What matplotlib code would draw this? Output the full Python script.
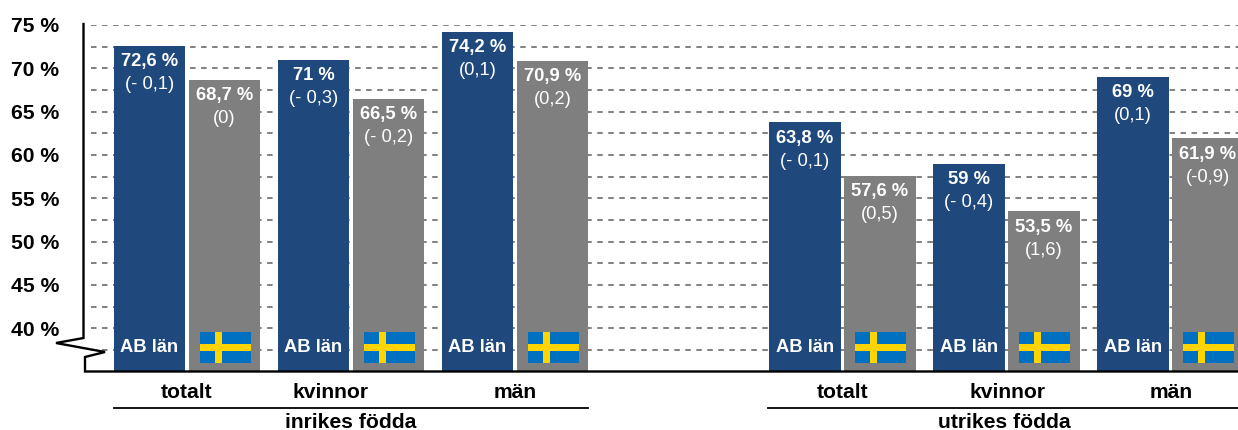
import matplotlib
matplotlib.use("Agg")
import matplotlib.pyplot as plt
from matplotlib.patches import Rectangle
from matplotlib.transforms import Affine2D, blended_transform_factory

plt.rcParams['font.family'] = ['Liberation Sans', 'DejaVu Sans']

W, H = 1238, 430

group_pos = [0, 1, 2, 4, 5, 6]
group_names = ["totalt", "kvinnor", "män", "totalt", "kvinnor", "män"]
region_names = ["inrikes födda", "utrikes födda"]

ab_values = [72.6, 71, 74.2, 63.8, 59, 69]
se_values = [68.7, 66.5, 70.9, 57.6, 53.5, 61.9]
ab_labels = ["72,6 %", "71 %", "74,2 %", "63,8 %", "59 %", "69 %"]
se_labels = ["68,7 %", "66,5 %", "70,9 %", "57,6 %", "53,5 %", "61,9 %"]
ab_change = ["(- 0,1)", "(- 0,3)", "(0,1)", "(- 0,1)", "(- 0,4)", "(0,1)"]
se_change = ["(0)", "(- 0,2)", "(0,2)", "(0,5)", "(1,6)", "(-0,9)"]

ytick_vals = [40, 45, 50, 55, 60, 65, 70, 75]
ytick_labels = ["40 %", "45 %", "50 %", "55 %", "60 %", "65 %", "70 %", "75 %"]
grid_vals = [37.5, 40, 42.5, 45, 47.5, 50, 52.5, 55, 57.5, 60, 62.5, 65, 67.5, 70, 72.5, 75]

BLUE = "#1F497D"
GRAY = "#7F7F7F"
GRID = "#808080"
FLAG_BLUE = "#0070C0"
FLAG_YEL = "#FFD400"

fig = plt.figure(figsize=(W / 100, H / 100), dpi=100)
ax = fig.add_axes([84 / W, (H - 371.5) / H, 1 - 84 / W, 346.5 / H])

# slot units: one group is 164 px wide, group 0 centred at x=187 px
slot = 164.0
ax.set_xlim((84 - 187) / slot, (W - 187) / slot)
ax.set_ylim(35, 75)
for s in ax.spines.values():
    s.set_visible(False)
ax.set_xticks([])
ax.set_yticks(ytick_vals)
ax.set_yticklabels(ytick_labels, fontsize=15.2, fontweight="bold", color="black")
ax.tick_params(axis="y", length=0, pad=18)
ax.patch.set_alpha(0)

# pixel coords, y going down like the image
px = Affine2D().scale(1 / W, -1 / H).translate(0, 1) + fig.transFigure
x_data_y_px = blended_transform_factory(ax.transData, px)

grid_start = (91 - 187) / slot
ax.hlines(grid_vals, grid_start, ax.get_xlim()[1], colors=GRID, lw=1.4,
          linestyles=[(0, (2.83, 2.83))], zorder=1)

bar_w = 71.5 / slot
shift = 37.5 / slot
for i, g in enumerate(group_pos):
    # right hand groups sit a hair to the left in the original
    gx = g - 0.7 / slot if i >= 3 else g
    xa = gx - shift
    xb = gx + shift
    ax.bar(xa, ab_values[i], bar_w, bottom=0, color=BLUE, zorder=2)
    ax.bar(xb, se_values[i], bar_w, bottom=0, color=GRAY, zorder=2)

    for xc, val, lab, chg in [(xa, ab_values[i], ab_labels[i], ab_change[i]),
                              (xb, se_values[i], se_labels[i], se_change[i])]:
        ax.annotate(lab, (xc, val), xytext=(0, -16 * 0.72), textcoords="offset points",
                    ha="center", va="center", color="white", fontsize=13.2, fontweight="bold", zorder=4)
        ax.annotate(chg, (xc, val), xytext=(0, -39 * 0.72), textcoords="offset points",
                    ha="center", va="center", color="white", fontsize=13.2, zorder=4)

    ax.text(xa, 347, "AB län", transform=x_data_y_px, ha="center", va="center",
            color="white", fontsize=13.2, fontweight="bold", zorder=4)

    # flag
    fx = xb - 25 / slot + 0.5 / slot
    ax.add_patch(Rectangle((fx, 332), 50.5 / slot, 31, transform=x_data_y_px, color=FLAG_BLUE, lw=0, zorder=3))
    ax.add_patch(Rectangle((fx + 15 / slot, 332), 7 / slot, 31, transform=x_data_y_px, color=FLAG_YEL, lw=0, zorder=3.1))
    ax.add_patch(Rectangle((fx, 344), 50.5 / slot, 6.5, transform=x_data_y_px, color=FLAG_YEL, lw=0, zorder=3.1))

# category labels, the left "kvinnor" sits off centre in the original
for i, g in enumerate(group_pos):
    nudge = -20 / slot if i == 1 else 0
    ax.text(g + nudge, 393, group_names[i], transform=x_data_y_px, ha="center", va="center",
            fontsize=15.2, fontweight="bold", color="black", clip_on=False)

# bracket lines and region names
fig.add_artist(plt.Line2D([114, 588], [407.5, 407.5], transform=px, color="black", lw=1.3))
fig.add_artist(plt.Line2D([768, 1238], [407.5, 407.5], transform=px, color="black", lw=1.3))
fig.text(351, 422, region_names[0], transform=px, ha="center", va="center",
         fontsize=15.2, fontweight="bold", color="black")
fig.text(1004, 422, region_names[1], transform=px, ha="center", va="center",
         fontsize=15.2, fontweight="bold", color="black")

# y axis with the break, then baseline
fig.add_artist(plt.Line2D([83.5, 83.5, 56, 105, 85, 85, W],
                          [24, 338, 343, 352, 357, 371.5, 371.5],
                          transform=px, color="black", lw=1.7, solid_joinstyle="miter", zorder=5))

fig.savefig("out.png", dpi=100)
